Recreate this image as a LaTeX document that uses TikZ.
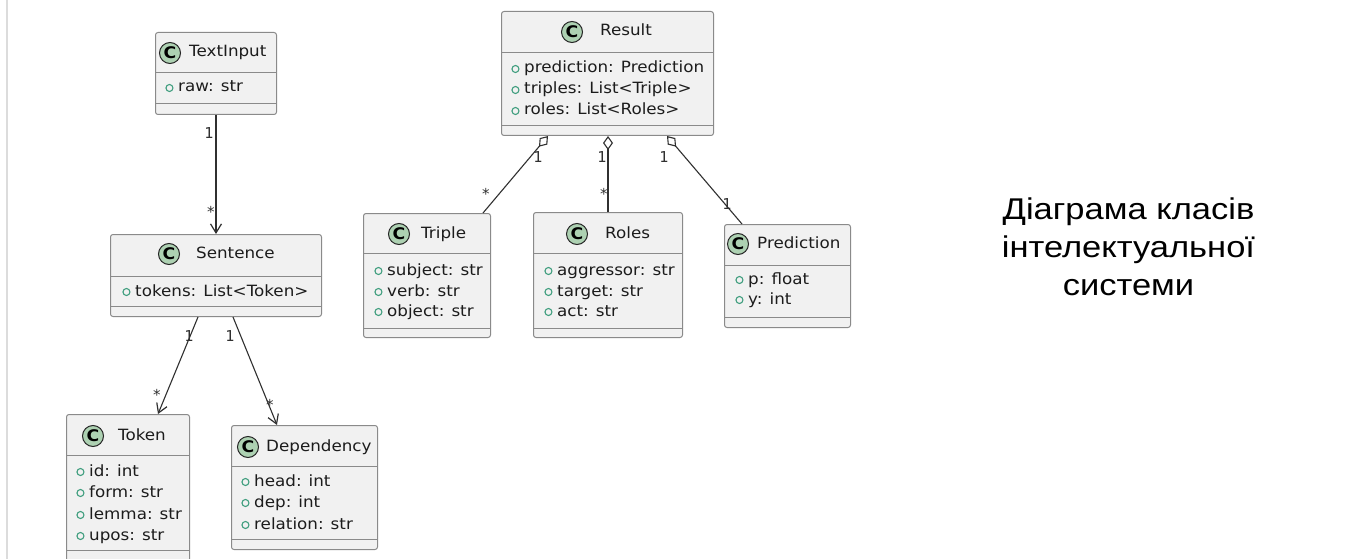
\documentclass[tikz,border=0pt]{standalone}
\usepackage{fontspec}
\setmainfont{DejaVu Sans}[FakeStretch=1.08]
\newfontfamily\multfont{DejaVu Sans Mono}
\newfontfamily\captionfont{Liberation Sans}[FakeStretch=1.15]
\usetikzlibrary{arrows.meta,calc}

\definecolor{boxfill}{HTML}{F1F1F1}
\definecolor{boxline}{HTML}{8A8A8A}
\definecolor{iconfill}{HTML}{ADD1B2}
\definecolor{visgreen}{HTML}{3F9E7E}
\definecolor{edgecol}{HTML}{303030}
\definecolor{textcol}{HTML}{1C1C1C}
\definecolor{frameline}{HTML}{DCDCDC}

% one UML class: name, left, top, width, height, header height, members height
\newcommand\umlclass[7]{%
  \node[classbox, minimum width=#4, minimum height=#5, anchor=north west] (#1) at (#2,#3) {};
  \draw[sepline] ($(#1.north west)+(0,#6)$) -- ($(#1.north east)+(0,#6)$);
  \draw[sepline] ($(#1.north west)+(0,#7)$) -- ($(#1.north east)+(0,#7)$);
}

\begin{document}
\begin{tikzpicture}[x=1pt,y=-1pt,
  classbox/.style={draw=boxline, fill=boxfill, line width=1pt, rounded corners=2.5pt, inner sep=0pt},
  sepline/.style={draw=boxline, line width=1pt},
  cicon/.style={circle, draw=black!85, fill=iconfill, line width=1pt, minimum size=21pt, inner sep=0pt,
    font=\bfseries\fontsize{16}{16}\selectfont},
  ctitle/.style={anchor=west, inner sep=0pt, text height=11.5pt, text depth=3.5pt,
    font=\fontsize{15.5}{15.5}\selectfont, text=textcol},
  member/.style={anchor=west, inner sep=0pt, text height=11.5pt, text depth=3.5pt,
    font=\fontsize{15.5}{15.5}\selectfont, text=textcol,
    label={[vis, label distance=4.5pt]left:{}}},
  vis/.style={circle, draw=visgreen, line width=1.1pt, minimum size=7pt, inner sep=0pt},
  assoc/.style={draw=edgecol, line width=1.1pt, -{Straight Barb[length=9pt, width=11pt, line width=1.2pt]}},
  aggr/.style={draw=edgecol, line width=1.1pt, {Diamond[open, length=14pt, width=10pt, line width=1.1pt]}-},
  mult/.style={inner sep=0pt, font=\multfont\fontsize{15}{15}\selectfont, text=edgecol},
  captionline/.style={anchor=base, inner sep=0pt, font=\captionfont\fontsize{30}{30}\selectfont, text=black}
]
\useasboundingbox (0,0) rectangle (1357,559);
\fill[white] (0,0) rectangle (1357,559);
\draw[frameline, line width=2pt] (7,0) -- (7,559);

% TextInput
\umlclass{textinput}{155}{32}{121}{82}{41}{72}
\node[cicon] (ticon) at (170,53) {C};
\node[ctitle] (ttitle) at (189,53) {TextInput};
\node[member] (traw) at (178,88) {raw: str};

% Sentence
\umlclass{sentence}{110}{234}{211}{82}{42}{72}
\node[cicon] (sicon) at (169,254) {C};
\node[ctitle] (stitle) at (196,254) {Sentence};
\node[member] (stok) at (135,292) {tokens: List<Token>};

% Token
\umlclass{token}{66}{414}{123}{147}{41}{136}
\node[cicon] (kicon) at (93,436) {C};
\node[ctitle] (ktitle) at (118,436) {Token};
\node[member] (kid) at (89,472) {id: int};
\node[member] (kform) at (89,493) {form: str};
\node[member] (klemma) at (89,515) {lemma: str};
\node[member] (kupos) at (89,536) {upos: str};

% Dependency
\umlclass{dependency}{231}{425}{146}{124}{41}{114}
\node[cicon] (dicon) at (248,447) {C};
\node[ctitle] (dtitle) at (266,447) {Dependency};
\node[member] (dhead) at (254,482) {head: int};
\node[member] (ddep) at (254,503) {dep: int};
\node[member] (drel) at (254,525) {relation: str};

% Result
\umlclass{result}{501}{11}{212}{124}{42}{115}
\node[cicon] (ricon) at (572,32) {C};
\node[ctitle] (rtitle) at (600,32) {Result};
\node[member] (rpred) at (524,69) {prediction: Prediction};
\node[member] (rtrip) at (524,90) {triples: List<Triple>};
\node[member] (rroles) at (524,111) {roles: List<Roles>};

% Triple
\umlclass{triple}{363}{213}{127}{124}{40}{115}
\node[cicon] (picon) at (399,234) {C};
\node[ctitle] (ptitle) at (421,234) {Triple};
\node[member] (psub) at (387,271) {subject: str};
\node[member] (pverb) at (387,292) {verb: str};
\node[member] (pobj) at (387,312) {object: str};

% Roles
\umlclass{roles}{533}{212}{149}{125}{41}{116}
\node[cicon] (oicon) at (577,234) {C};
\node[ctitle] (otitle) at (605,234) {Roles};
\node[member] (oagg) at (557,271) {aggressor: str};
\node[member] (otar) at (557,292) {target: str};
\node[member] (oact) at (557,312) {act: str};

% Prediction
\umlclass{prediction}{724}{224}{126}{103}{41}{93}
\node[cicon] (nicon) at (738,244) {C};
\node[ctitle] (ntitle) at (757,244) {Prediction};
\node[member] (np) at (748,280) {p: float};
\node[member] (ny) at (748,300) {y: int};

% associations
\draw[assoc] (textinput.south) -- (sentence.north);
\draw[assoc] ($(sentence.south west)+(88,0)$) -- ($(token.north west)+(92,0)$);
\draw[assoc] ($(sentence.south west)+(123,0)$) -- ($(dependency.north west)+(46,0)$);

% aggregations
\draw[aggr] ($(result.south west)+(47,0)$) -- ($(triple.north west)+(120,0)$);
\draw[aggr] ($(result.south west)+(107,0)$) -- ($(roles.north west)+(75,0)$);
\draw[aggr] ($(result.south west)+(166,0)$) -- ($(prediction.north west)+(18,0)$);

% multiplicities
\node[mult] (m1) at (209,133) {1};
\node[mult] (m2) at (211,212) {*};
\node[mult] (m3) at (189,336) {1};
\node[mult] (m4) at (157,395) {*};
\node[mult] (m5) at (230,336) {1};
\node[mult] (m6) at (270,405) {*};
\node[mult] (m7) at (538,157) {1};
\node[mult] (m8) at (486,194) {*};
\node[mult] (m9) at (602,157) {1};
\node[mult] (m10) at (604,194) {*};
\node[mult] (m11) at (664,157) {1};
\node[mult] (m12) at (727,204) {1};

% caption
\node[captionline] (cap1) at (1128.5,219) {Діаграма класів};
\node[captionline] (cap2) at (1128.5,257) {інтелектуальної};
\node[captionline] (cap3) at (1128.5,295) {системи};
\end{tikzpicture}
\end{document}
